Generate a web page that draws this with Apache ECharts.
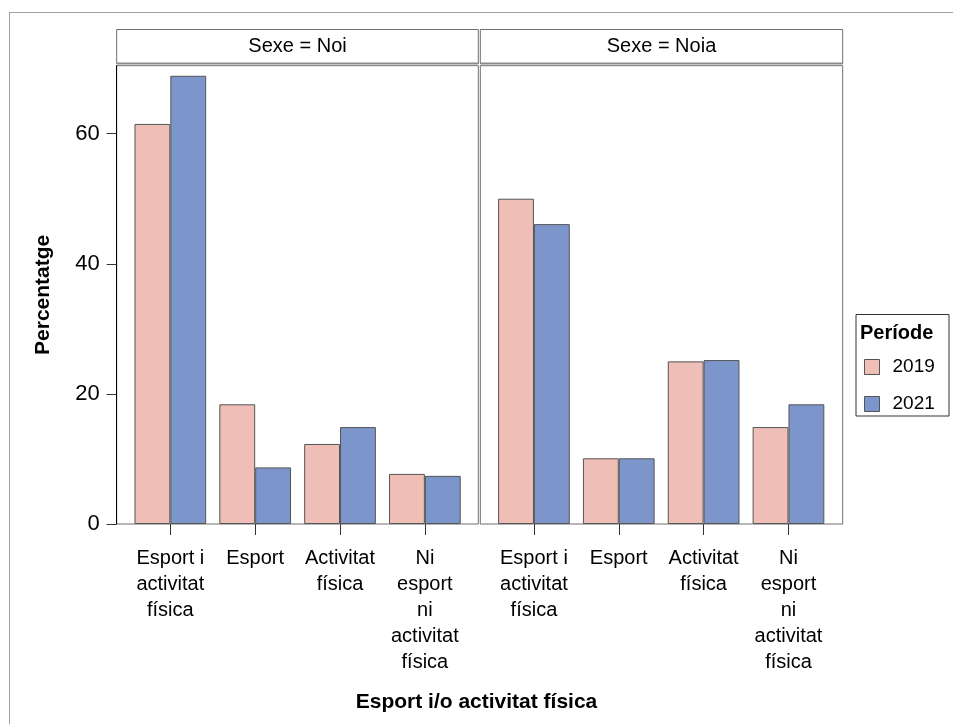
<!DOCTYPE html>
<html>
<head>
<meta charset="utf-8">
<script src="https://cdn.jsdelivr.net/npm/echarts@6/dist/echarts.min.js"></script>
<style>html,body{margin:0;padding:0;background:#fff}#c{width:953px;height:724px}</style>
</head>
<body>
<div id="c"></div>
<script>
var categories = ['Esport i\nactivitat\nfísica', 'Esport', 'Activitat\nfísica', 'Ni\nesport\nni\nactivitat\nfísica'];
var panels = ['Sexe = Noi', 'Sexe = Noia'];
var periods = ['2019', '2021'];
var noi2019 = [61.5, 18.4, 12.3, 7.7];
var noi2021 = [68.9, 8.7, 14.9, 7.4];
var noia2019 = [50.0, 10.1, 25.0, 14.9];
var noia2021 = [46.1, 10.1, 25.2, 18.4];
var yTicks = [0, 20, 40, 60];
var yMax = 70.45;

var FONT = 'Liberation Sans, Arial, sans-serif';
var PINK = '#EFBEB7', BLUE = '#7C95CB', EDGE = '#555555';

var frameTop = 65.7, frameH = 458.3;
var frames = [{left: 116.7, width: 361.6}, {left: 480.3, width: 362.4}];
var inset = 11.2, dataW = 339.4;

var grids = [], xAxes = [], yAxes = [], series = [];
frames.forEach(function (f, i) {
  grids.push({left: f.left, top: frameTop, width: f.width, height: frameH, show: true,
    borderColor: '#6f6f6f', borderWidth: 1, backgroundColor: 'transparent'});
});
frames.forEach(function (f, i) {
  grids.push({left: f.left + inset, top: frameTop, width: dataW, height: frameH, show: false});
});
// frame axes
[0, 1].forEach(function (i) {
  xAxes.push({gridIndex: i, type: 'value', show: false, min: 0, max: 1});
  yAxes.push({gridIndex: i, type: 'value', min: 0, max: yMax, show: i === 0,
    name: i === 0 ? 'Percentatge' : '', nameLocation: 'middle', nameGap: 63, nameRotate: 90,
    nameMoveOverlap: false,
    nameTextStyle: {fontFamily: FONT, fontSize: 21, fontWeight: 'bold', color: '#000'},
    axisLine: {show: true, lineStyle: {color: '#000', width: 1}},
    axisTick: {show: true, length: 10, lineStyle: {color: '#333'}, customValues: yTicks},
    axisLabel: {fontFamily: FONT, fontSize: 22, color: '#000', margin: 17, customValues: yTicks},
    splitLine: {show: false}});
});
// data axes
[2, 3].forEach(function (i) {
  xAxes.push({gridIndex: i, type: 'category', data: categories,
    axisLine: {show: false},
    axisTick: {show: true, alignWithLabel: true, length: 11, lineStyle: {color: '#333'}},
    axisLabel: {fontFamily: FONT, fontSize: 20, lineHeight: 26, color: '#000', margin: 21, interval: 0}});
  yAxes.push({gridIndex: i, type: 'value', min: 0, max: yMax, show: false, splitLine: {show: false}});
});
var data = [[noi2019, noi2021], [noia2019, noia2021]];
[0, 1].forEach(function (p) {
  periods.forEach(function (per, k) {
    series.push({name: per, type: 'bar', xAxisIndex: p + 2, yAxisIndex: p + 2,
      data: data[p][k], barGap: '0%', barCategoryGap: '15.5%',
      itemStyle: {color: k === 0 ? PINK : BLUE, borderColor: EDGE, borderWidth: 1},
      emphasis: {disabled: true}, animation: false});
  });
});

var graphics = [
  {type: 'line', shape: {x1: 9, y1: 12.5, x2: 953, y2: 12.5}, style: {stroke: '#a0a0a0', lineWidth: 1}},
  {type: 'line', shape: {x1: 9.5, y1: 12, x2: 9.5, y2: 724}, style: {stroke: '#a0a0a0', lineWidth: 1}}
];
frames.forEach(function (f, i) {
  graphics.push({type: 'rect', shape: {x: f.left, y: 29.5, width: f.width, height: 34},
    style: {fill: '#fff', stroke: '#6f6f6f', lineWidth: 1}});
  graphics.push({type: 'line', shape: {x1: f.left, y1: 63.5, x2: f.left + f.width, y2: 63.5},
    style: {stroke: '#8a8a8a', lineWidth: 2}});
  graphics.push({type: 'text', x: f.left + f.width / 2, y: 46.5,
    style: {text: panels[i], font: '20px ' + FONT, fill: '#000', textAlign: 'center', textVerticalAlign: 'middle'}});
});
graphics.push({type: 'rect', shape: {x: 856, y: 314.5, width: 93, height: 101.5},
  style: {fill: '#fff', stroke: '#333', lineWidth: 1}, z: 0});
graphics.push({type: 'text', x: 860, y: 333.5,
  style: {text: 'Període', font: 'bold 20px ' + FONT, fill: '#000', textVerticalAlign: 'middle'}});

var chart = echarts.init(document.getElementById('c'), null, {renderer: 'canvas'});
chart.setOption({
  animation: false,
  backgroundColor: '#fff',
  title: {text: 'Esport i/o activitat física', left: 'center', top: 687,
    textStyle: {fontFamily: FONT, fontSize: 21, fontWeight: 'bold', color: '#000'}},
  legend: {data: periods, orient: 'vertical', left: 864, top: 357.5, itemWidth: 15, itemHeight: 15,
    itemGap: 18, padding: 0, selectedMode: false, icon: 'rect',
    itemStyle: {borderColor: EDGE, borderWidth: 1},
    textStyle: {fontFamily: FONT, fontSize: 19, color: '#000', lineHeight: 15, padding: [0, 0, 0, 8]}},
  grid: grids, xAxis: xAxes, yAxis: yAxes, series: series,
  graphic: {elements: graphics}
});
</script>
</body>
</html>
